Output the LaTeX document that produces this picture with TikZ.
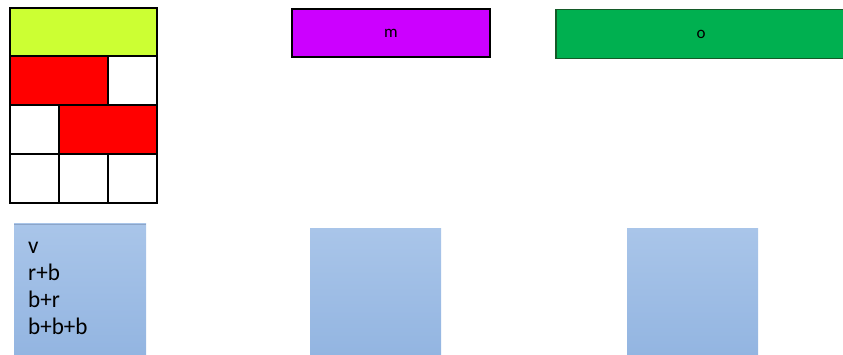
\documentclass[tikz,border=0pt]{standalone}
\usepackage{fontspec}
\setmainfont{Carlito}
\begin{document}
\begin{tikzpicture}[x=1pt,y=-1pt,
  cell/.style={draw=black,line width=1.5pt},
  bar/.style={draw=black,line width=1.2pt,font=\fontsize{17}{18}\selectfont},
  bluebox/.style={top color=blue1,bottom color=blue2,draw=none}]
\definecolor{lime}{HTML}{CCFF33}
\definecolor{mag}{HTML}{CC00FF}
\definecolor{grn}{HTML}{00B050}
\definecolor{blue1}{HTML}{A9C5E9}
\definecolor{blue2}{HTML}{93B5E1}
\useasboundingbox (0,0) rectangle (843,355);
% grid
\foreach \c in {0,1,2} \foreach \r in {0,1,2}
  \draw[cell] (10+49*\c,56+49*\r) rectangle ++(49,49);
\filldraw[cell,fill=lime] (10,8) rectangle (157,56);
\filldraw[cell,fill=red] (10,56) rectangle (108,105);
\filldraw[cell,fill=red] (59,105) rectangle (157,154);
% bars
\node[bar,fill=mag,minimum width=198pt,minimum height=48pt,inner sep=0pt] (m) at (391,33) {m};
\node[bar,fill=grn,draw={rgb,255:red,20;green,90;blue,40},minimum width=290pt,minimum height=49pt,inner sep=0pt] (o) at (701,34) {o};
% blue boxes
\fill[bluebox] (14,224) rectangle (146,355);
\draw[color={rgb,255:red,140;green,165;blue,200},line width=1pt] (14,224.5) -- (146,224.5);
\fill[bluebox] (310,229) rectangle (441,355);
\fill[bluebox] (627,229) rectangle (758,355);
\node[anchor=north west,align=left,inner sep=0pt,font=\fontsize{22}{25.2}\selectfont,xscale=1.05,yscale=1.08] (t) at (28,241.5) {v\\r+b\\b+r\\b+b+b};
\end{tikzpicture}
\end{document}
